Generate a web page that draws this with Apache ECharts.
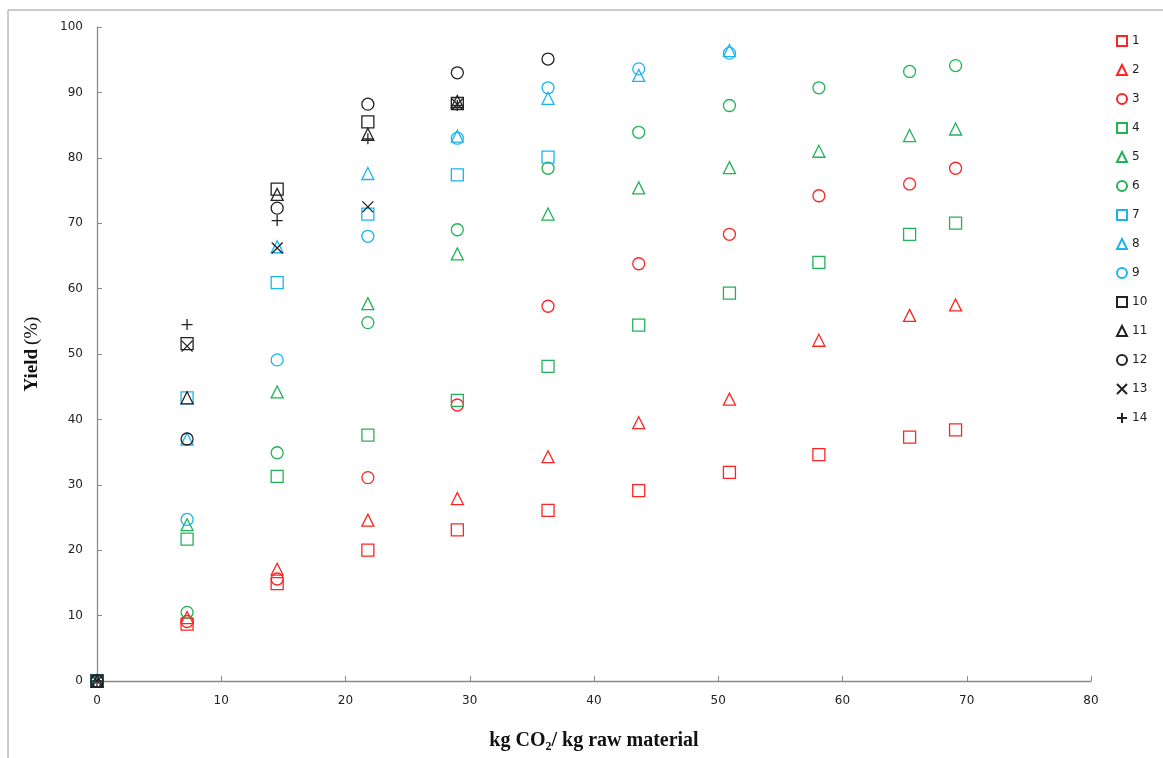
<!DOCTYPE html>
<html>
<head>
<meta charset="utf-8">
<script src="https://cdn.jsdelivr.net/npm/echarts@6/dist/echarts.min.js"></script>
<style>
  html, body { margin: 0; padding: 0; background: #fff; }
  #chart { width: 1163px; height: 758px; }
</style>
</head>
<body>
<div id="chart"></div>
<script>
// kg CO2 / kg raw material
var xs = [0, 7.25, 14.5, 21.8, 29.0, 36.3, 43.6, 50.9, 58.1, 65.4, 69.1];

// yield (%) per run, same order as xs
var s1  = [0, 8.7, 14.9, 20.0, 23.1, 26.1, 29.1, 31.9, 34.6, 37.3, 38.4];
var s2  = [0, 9.7, 17.1, 24.6, 27.9, 34.3, 39.5, 43.1, 52.1, 55.9, 57.5];
var s3  = [0, 9.1, 15.6, 31.1, 42.2, 57.3, 63.8, 68.3, 74.2, 76.0, 78.4];
var s4  = [0, 21.7, 31.3, 37.6, 42.9, 48.1, 54.4, 59.3, 64.0, 68.3, 70.0];
var s5  = [0, 23.9, 44.2, 57.7, 65.3, 71.4, 75.4, 78.5, 81.0, 83.4, 84.4];
var s6  = [0, 10.5, 34.9, 54.8, 69.0, 78.4, 83.9, 88.0, 90.7, 93.2, 94.1];
var s7  = [0, 43.3, 60.9, 71.4, 77.4, 80.1];
var s8  = [0, 37.0, 66.4, 77.6, 83.3, 89.1, 92.6, 96.4];
var s9  = [0, 24.7, 49.1, 68.0, 83.0, 90.7, 93.6, 96.0];
var s10 = [0, 51.6, 75.2, 85.5, 88.3];
var s11 = [0, 43.3, 74.4, 83.6, 88.6];
var s12 = [0, 37.0, 72.3, 88.2, 93.0, 95.1];
var s13 = [0, 51.2, 66.2, 72.5, 88.2];
var s14 = [0, 54.5, 70.4, 82.9, 88.0];

var names = ['1','2','3','4','5','6','7','8','9','10','11','12','13','14'];
var xTicks = [0, 10, 20, 30, 40, 50, 60, 70, 80];
var yTicks = [0, 10, 20, 30, 40, 50, 60, 70, 80, 90, 100];

var red = '#ff2424', green = '#22b257', blue = '#1cb4f0', black = '#222222';
var cross = 'path://M0,0L10,10M10,0L0,10';
var plus = 'path://M5,0L5,10M0,5L10,5';

var all = [s1, s2, s3, s4, s5, s6, s7, s8, s9, s10, s11, s12, s13, s14];
var colors = [red, red, red, green, green, green, blue, blue, blue, black, black, black, black, black];
var symbols = ['rect','triangle','circle','rect','triangle','circle','rect','triangle','circle',
               'rect','triangle','circle', cross, plus];

function pairs(ys) {
  var out = [];
  for (var i = 0; i < ys.length; i++) out.push([xs[i], ys[i]]);
  return out;
}

var series = all.map(function (ys, i) {
  return {
    name: names[i],
    type: 'scatter',
    data: pairs(ys),
    symbol: symbols[i],
    symbolSize: i >= 12 ? 11 : 12,
    itemStyle: { color: 'rgba(0,0,0,0)', borderColor: colors[i], borderWidth: 1.3, opacity: 1 },
    emphasis: { disabled: true }
  };
});

var chart = echarts.init(document.getElementById('chart'));
chart.setOption({
  animation: false,
  backgroundColor: '#fff',
  textStyle: { fontFamily: 'DejaVu Sans' },
  graphic: [{
    type: 'polyline',
    shape: { points: [[8, 758], [8, 10], [1163, 10]] },
    style: { stroke: '#9a9a9a', lineWidth: 1, fill: null }
  }],
  grid: { left: 97, right: 72, top: 27, bottom: 74 },
  legend: {
    orient: 'vertical',
    left: 1111,
    top: 30,
    itemWidth: 10,
    itemHeight: 10,
    itemGap: 17,
    textStyle: { fontSize: 12, color: '#222', fontFamily: 'DejaVu Sans' },
    data: names
  },
  xAxis: {
    type: 'value',
    min: 0, max: 80, interval: 10,
    axisLine: { lineStyle: { color: '#8a8a8a', width: 1.3 } },
    axisTick: { inside: true, length: 5, lineStyle: { color: '#8a8a8a' } },
    splitLine: { show: false },
    axisLabel: { fontSize: 12, color: '#222', margin: 14,
      formatter: function (v) { return xTicks.indexOf(v) >= 0 ? String(v) : ''; } },
    name: '{b|kg CO}{s|2}{b|/ kg raw material}',
    nameLocation: 'middle',
    nameGap: 48,
    nameTextStyle: {
      rich: {
        b: { fontFamily: 'Liberation Serif', fontWeight: 'bold', fontSize: 20, color: '#111' },
        s: { fontFamily: 'Liberation Serif', fontWeight: 'bold', fontSize: 12, color: '#111', padding: [12, 0, 0, 0] }
      }
    }
  },
  yAxis: {
    type: 'value',
    min: 0, max: 100, interval: 10,
    axisLine: { show: true, lineStyle: { color: '#8a8a8a', width: 1.3 } },
    axisTick: { show: true, inside: true, length: 5, lineStyle: { color: '#8a8a8a' } },
    splitLine: { show: false },
    axisLabel: { fontSize: 12, color: '#222', margin: 14,
      formatter: function (v) { return yTicks.indexOf(v) >= 0 ? String(v) : ''; } },
    name: '{b|Yield} {n|(%)}',
    nameLocation: 'middle',
    nameGap: 55,
    nameTextStyle: {
      rich: {
        b: { fontFamily: 'Liberation Serif', fontWeight: 'bold', fontSize: 19, color: '#111' },
        n: { fontFamily: 'Liberation Serif', fontSize: 19, color: '#111' }
      }
    }
  },
  series: series
});
</script>
</body>
</html>
